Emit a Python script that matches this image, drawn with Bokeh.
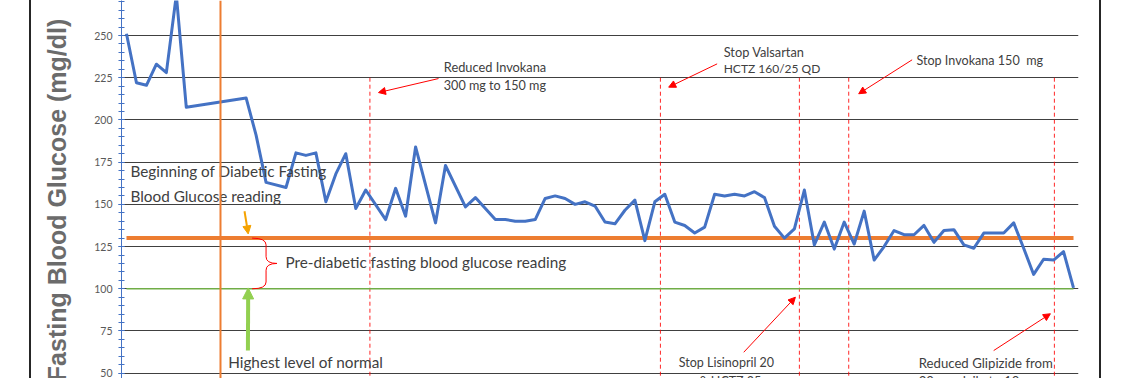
from bokeh.plotting import figure
from bokeh.layouts import row
from bokeh.models import (Range1d, Span, Arrow, NormalHead, SingleIntervalTicker,
                          ColumnDataSource, Spacer)
from bokeh.core.properties import value
from bokeh.embed import file_html
from bokeh.resources import INLINE

# ---- data -------------------------------------------------------------
DAY = [0, 1, 2, 3, 4, 5, 6, 12, 13, 14, 16, 17, 18, 19, 20, 21, 22, 23, 24,
       26, 27, 28, 29, 31, 32, 34, 35, 37, 38, 39, 40, 41, 42, 43, 44, 45,
       46, 47, 48, 49, 50, 51, 52, 53, 54, 55, 56, 57, 58, 59, 60, 61, 62,
       63, 64, 65, 66, 67, 68, 69, 70, 71, 72, 73, 74, 75, 76, 77, 78, 79,
       80, 81, 82, 83, 84, 85, 86, 87, 88, 89, 90, 91, 92, 93, 94, 95]
GLUCOSE = [251, 222, 220.5, 233, 228, 274, 207.5, 213, 191, 163, 160, 180.5,
           179, 180.5, 151.5, 168, 180, 147.5, 158.5, 141, 159.5, 143, 184,
           139, 173, 148.5, 154, 141, 141, 140, 140, 141, 153.5, 155, 153.5,
           150, 151.5, 149, 139.5, 138.5, 146.5, 152.5, 128.5, 151.5, 156,
           139.5, 137.5, 133, 136.5, 156, 155, 156, 155, 157.5, 154, 137, 130,
           135.5, 158.5, 126, 139.5, 123.5, 139.5, 126.5, 146, 117, 125,
           134.5, 132, 132, 137.5, 127.5, 134.5, 135, 126, 124, 133, 133, 133,
           139, 124, 108.5, 117.5, 117, 122, 100.5]

DIABETIC_LEVEL = 130     # beginning of diabetic fasting glucose
NORMAL_LEVEL = 100       # highest level of normal
START_MARK = 9.43        # orange vertical marker
EVENT_DAYS = [24.42, 53.56, 67.5, 72.45, 93.08]   # medication changes
EVENT_TOP = 225

Y_TICK_INTERVAL = 25

NOTE_X = [0.4, 0.4, 15.95, 10.2, 31.83, 31.83, 59.91, 59.91, 79.24, 55.4,
          55.4, 79.47, 79.47]
NOTE_Y = [169.6, 155.2, 115.7, 56.5, 231.2, 220.4, 240.1, 230.3, 235.2, 56.3,
          45.3, 56.3, 45.3]
NOTE_TEXT = ["Beginning of Diabetic Fasting", "Blood Glucose reading",
             "Pre-diabetic fasting blood glucose reading",
             "Highest level of normal", "Reduced Invokana", "300 mg to 150 mg",
             "Stop Valsartan", "HCTZ 160/25 QD", "Stop Invokana 150\u00a0 mg",
             "Stop Lisinopril 20", "mg & HCTZ 25 mg",
             "Reduced Glipizide from", "20 mg daily to 10 mg"]
NOTE_SIZE = ["15.3px", "15.3px", "15.3px", "15.3px", "12.8px", "12.6px",
             "12.8px", "12px", "12.6px", "12.5px", "12.5px", "13.2px", "13.2px"]

RED_ARROWS = [  # x_start, y_start, x_end, y_end
    (31.3, 224.5, 25.28, 216.2),
    (59.25, 233.2, 54.39, 219.4),
    (78.81, 235.6, 73.45, 215.5),
    (61.92, 62.4, 67.1, 95.0),
    (86.99, 63.4, 92.68, 85.2),
]
ORANGE_ARROW = (11.84, 145.9, 12.21, 132.5)
GREEN_ARROW = (12.18, 63.4, 12.21, 100.5)

# ---- figure -----------------------------------------------------------
fig = figure(width=1068, height=378,
             x_range=Range1d(-0.5, 95.5), y_range=Range1d(46.86, 270.73),
             x_axis_location=None, output_backend="svg", toolbar_location=None,
             min_border_left=90, min_border_right=21, min_border_top=0,
             min_border_bottom=0)
fig.outline_line_color = None
fig.background_fill_color = "white"
fig.border_fill_color = "white"

ticker = SingleIntervalTicker(interval=Y_TICK_INTERVAL, num_minor_ticks=5)
ax = fig.yaxis[0]
ax.ticker = ticker
ax.axis_line_color = "#4472C4"
ax.major_tick_line_color = "#4472C4"
ax.minor_tick_line_color = "#4472C4"
ax.major_tick_in = 3
ax.major_tick_out = 3
ax.minor_tick_in = 3
ax.minor_tick_out = 3
ax.major_label_standoff = 6
ax.major_label_text_font = "Lato"
ax.major_label_text_font_size = "10.5px"
ax.major_label_text_color = "#595959"
ax.axis_label = "Fasting Blood Glucose (mg/dl)" + "\u00a0" * 3
ax.axis_label_text_font = "Liberation Sans"
ax.axis_label_text_font_style = "bold"
ax.axis_label_text_font_size = "25px"
ax.axis_label_text_color = "#6b6b6b"
ax.axis_label_standoff = 20

fig.ygrid.ticker = ticker
fig.ygrid.grid_line_color = "#404040"
fig.ygrid.grid_line_width = 1
fig.xgrid.visible = False

# orange vertical start marker
fig.add_layout(Span(location=START_MARK, dimension="height",
                    line_color="#ED7D31", line_width=2))

# medication change markers
fig.segment(x0=EVENT_DAYS, y0=[EVENT_TOP] * len(EVENT_DAYS), x1=EVENT_DAYS,
            y1=[0] * len(EVENT_DAYS), line_color="#FF0000", line_width=1,
            line_dash="4 3", line_alpha=0.85)

# threshold lines
fig.line([DAY[0], DAY[-1]], [NORMAL_LEVEL, NORMAL_LEVEL], line_color="#70AD47",
         line_width=1.3)
fig.line([DAY[0], DAY[-1]], [DIABETIC_LEVEL, DIABETIC_LEVEL],
         line_color="#ED7D31", line_width=4)

# glucose readings
fig.line(DAY, GLUCOSE, line_color="#4472C4", line_width=3, line_join="round")

# curly brace between thresholds
mid = (DIABETIC_LEVEL + NORMAL_LEVEL) / 2
bx0, bx1, bx2 = 12.6, 14.0, 15.1
q = 4
fig.quadratic(x0=[bx0, bx1, bx2, bx1],
              y0=[DIABETIC_LEVEL, mid + q, mid, NORMAL_LEVEL + q],
              x1=[bx1, bx2, bx1, bx0],
              y1=[DIABETIC_LEVEL - q, mid, mid - q, NORMAL_LEVEL],
              cx=[bx1, bx1, bx1, bx1],
              cy=[DIABETIC_LEVEL, mid, mid, NORMAL_LEVEL],
              line_color="#FF0000", line_width=1)
fig.segment(x0=[bx1, bx1], y0=[DIABETIC_LEVEL - q, mid - q], x1=[bx1, bx1],
            y1=[mid + q, NORMAL_LEVEL + q], line_color="#FF0000", line_width=1)

# notes
notes = ColumnDataSource(dict(x=NOTE_X, y=NOTE_Y, text=NOTE_TEXT, size=NOTE_SIZE))
fig.text(x="x", y="y", text="text", source=notes, text_font=value("Lato"),
         text_font_size="size", text_color="#404040", text_baseline="middle",
         text_align="left")

for (xs, ys, xe, ye) in RED_ARROWS:
    fig.add_layout(Arrow(end=NormalHead(size=7, fill_color="#FF0000",
                                        line_color="#FF0000"),
                         x_start=xs, y_start=ys, x_end=xe, y_end=ye,
                         line_color="#FF0000", line_width=1))
xs, ys, xe, ye = ORANGE_ARROW
fig.add_layout(Arrow(end=NormalHead(size=8, fill_color="#F5A200",
                                    line_color="#F5A200"),
                     x_start=xs, y_start=ys, x_end=xe, y_end=ye,
                     line_color="#F5A200", line_width=2))
xs, ys, xe, ye = GREEN_ARROW
fig.add_layout(Arrow(end=NormalHead(size=11, fill_color="#92D050",
                                    line_color="#92D050"),
                     x_start=xs, y_start=ys, x_end=xe, y_end=ye,
                     line_color="#92D050", line_width=4))

# chart border lines left and right of the figure
left_pad = Spacer(width=29, height=378)
left_edge = Spacer(width=2, height=378, styles={"background-color": "#262626"})
right_edge = Spacer(width=2, height=378, styles={"background-color": "#262626"})

p = row(left_pad, left_edge, fig, right_edge, spacing=0)

open("out.html", "w").write(file_html(p, INLINE))
